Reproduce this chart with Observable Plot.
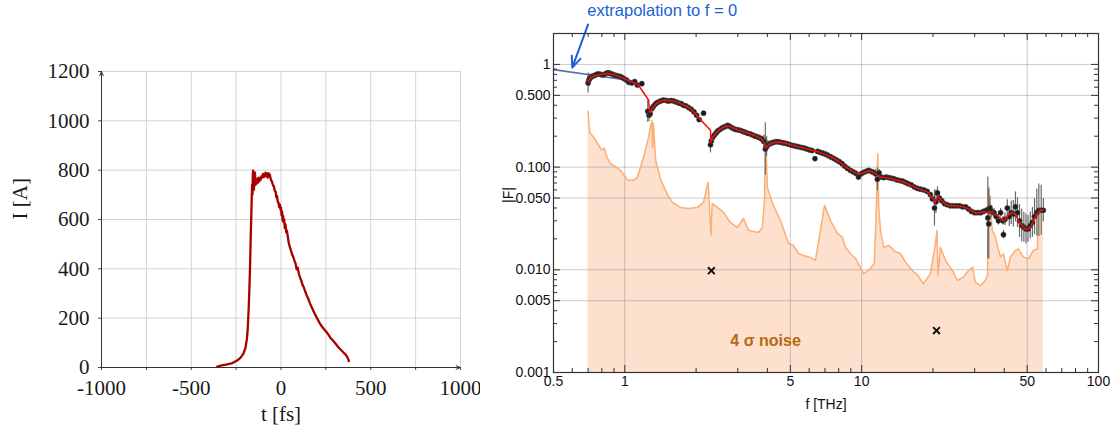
<!DOCTYPE html>
<html><head><meta charset="utf-8">
<script src="https://cdn.jsdelivr.net/npm/d3@7"></script>
<script src="https://cdn.jsdelivr.net/npm/@observablehq/plot@0.6"></script>
<style>
html,body{margin:0;padding:0;background:#fff;}
#wrap{display:flex;width:1117px;height:439px;overflow:hidden;}
#wrap svg{display:block;overflow:visible;}
</style></head><body><div id="wrap"></div>
<script>
// ---------- Left panel: current profile ----------
const tTime = [-355,-330,-300,-270,-244,-225,-210,-198,-190,-185,-180,-176,-172,-169,-166,-163,-161,-159,-157,-155,-153,-151,-148,-145,-142,-139,-136,-133,-129,-125,-121,-118,-114,-110,-105,-100,-95,-90,-86,-82,-78,-74,-70,-66,-62,-58,-55,-50,-45,-40,-35,-30,-26,-22,-18,-14,-10,-6,-3,0,3,6,9,12,15,18,21,25,29,33,38,43,48,53,58,64,70,76,81,87,93,99,106,113,120,127,135,143,151,160,170,180,190,202,214,226,239,252,264,276,288,300,313,325,336,345,353,360,366,371,375,378];
const currentA = [4,9,13,18,28,40,55,80,115,160,240,320,420,520,600,690,740,700,785,798,760,720,775,790,740,760,745,765,750,770,755,768,760,775,770,785,772,780,790,775,785,770,788,778,782,765,760,752,740,735,718,712,690,695,672,668,650,660,640,648,618,632,595,615,588,600,565,580,548,555,530,505,492,480,468,455,445,430,422,398,405,382,365,352,335,325,308,293,280,262,246,230,215,198,182,168,156,145,133,120,110,100,88,78,70,63,57,52,46,40,33,26];
const tDomain = [-1000, 1000];
const iDomain = [0, 1200];
const tGrid = [-1000,-750,-500,-250,0,250,500,750,1000];
const iGrid = [0,200,400,600,800,1000,1200];
const tTickLabels = [-1000,-500,0,500,1000];
const iTickLabels = [0,200,400,600,800,1000,1200];

// ---------- Right panel: form factor ----------
const fMeas = [0.70,0.705,0.71,0.72,0.73,0.745,0.76,0.775,0.79,0.805,0.82,0.835,0.85,0.865,0.88,0.90,0.92,0.94,0.96,0.98,1.00,1.02,1.04,1.07,1.10,1.13,1.18,
 1.25,1.265,1.28,1.30,1.32,1.345,1.37,1.40,1.43,1.46,1.50,1.53,1.57,1.61,1.65,1.69,1.73,1.77,1.81,1.86,1.91,1.96,2.01,2.06,2.15,
 2.30,2.32,2.35,2.39,2.43,2.47,2.52,2.57,2.62,2.67,2.72,2.77,2.83,2.89,2.95,3.02,3.09,3.16,3.23,3.31,3.39,3.47,3.55,3.63,3.71,3.79,3.86,3.92,
 3.97,4.02,4.08,4.15,4.23,4.32,4.42,4.52,4.62,4.73,4.84,4.96,5.08,5.20,5.33,5.46,5.60,5.74,5.88,6.03,6.18,6.35,6.52,6.70,6.88,7.06,7.25,7.44,7.64,7.84,8.05,8.27,8.49,8.72,8.96,9.20,9.45,
 9.70,9.95,10.2,10.45,10.7,10.95,11.2,11.45,11.65,11.85,12.1,12.4,12.7,13.0,13.35,13.7,14.1,14.5,14.9,15.3,15.7,16.2,16.7,17.2,17.7,18.3,18.9,19.5,19.9,20.3,20.6,20.9,21.3,21.8,22.4,23.0,23.7,24.4,25.1,25.9,26.7,27.5,28.3,29.1,30.0,30.9,31.8,32.7,33.6,34.1,34.4,34.8,35.4,36.2,37.0,37.8,38.6,39.5,39.7,40.3,41.2,42.0,42.8,43.7,44.6,45.5,46.4,47.4,48.4,49.4,50.4,51.5,52.6,53.7,54.9,56.0,57.3,58.5];
const FMeas = [0.66,0.70,0.73,0.75,0.77,0.78,0.80,0.81,0.80,0.79,0.80,0.82,0.83,0.82,0.81,0.79,0.78,0.77,0.76,0.74,0.72,0.70,0.67,0.66,0.68,0.63,0.65,
 0.35,0.32,0.33,0.37,0.39,0.41,0.425,0.435,0.445,0.45,0.445,0.44,0.445,0.44,0.43,0.42,0.415,0.40,0.395,0.38,0.365,0.345,0.32,0.29,0.335,
 0.165,0.18,0.195,0.205,0.215,0.225,0.232,0.24,0.245,0.25,0.255,0.25,0.242,0.236,0.232,0.23,0.227,0.222,0.218,0.213,0.21,0.205,0.20,0.197,0.193,0.188,0.178,0.150,
 0.158,0.165,0.168,0.171,0.174,0.176,0.177,0.175,0.173,0.171,0.169,0.166,0.163,0.161,0.159,0.157,0.155,0.153,0.150,0.147,0.145,0.121,0.142,0.139,0.136,0.133,0.129,0.125,0.121,0.117,0.113,0.108,0.102,0.097,0.093,0.090,0.087,
 0.080,0.086,0.089,0.091,0.093,0.091,0.089,0.086,0.076,0.088,0.080,0.079,0.080,0.079,0.078,0.077,0.075,0.074,0.073,0.071,0.069,0.067,0.064,0.062,0.061,0.060,0.058,0.054,0.049,0.040,0.046,0.056,0.050,0.047,0.044,0.043,0.042,0.042,0.042,0.042,0.041,0.041,0.039,0.037,0.036,0.036,0.036,0.037,0.038,0.032,0.028,0.040,0.037,0.036,0.033,0.030,0.036,0.030,0.022,0.031,0.040,0.033,0.036,0.035,0.041,0.036,0.030,0.027,0.026,0.025,0.025,0.027,0.029,0.033,0.036,0.038,0.038,0.038];
const errMeas = [1.25,1.15,1.10,1.06,1.05,1.04,1.04,1.04,1.04,1.04,1.04,1.04,1.04,1.04,1.04,1.04,1.04,1.04,1.04,1.04,1.04,1.04,1.04,1.04,1.04,1.04,1.04,
 1.28,1.15,1.10,1.06,1.05,1.04,1.04,1.04,1.04,1.04,1.04,1.04,1.04,1.04,1.04,1.04,1.04,1.04,1.04,1.04,1.04,1.04,1.04,1.04,1.03,
 1.20,1.12,1.08,1.06,1.05,1.05,1.04,1.04,1.04,1.04,1.04,1.04,1.04,1.04,1.04,1.04,1.04,1.04,1.04,1.04,1.04,1.04,1.04,1.04,1.04,1.05,1.15,1.8,
 1.25,1.10,1.06,1.05,1.04,1.04,1.04,1.04,1.04,1.04,1.04,1.04,1.04,1.04,1.04,1.04,1.04,1.04,1.04,1.04,1.04,1.03,1.04,1.05,1.06,1.07,1.07,1.06,1.05,1.04,1.04,1.04,1.04,1.05,1.05,1.05,1.05,
 1.04,1.04,1.04,1.04,1.04,1.04,1.05,1.10,1.3,1.08,1.05,1.04,1.04,1.04,1.04,1.04,1.04,1.04,1.04,1.04,1.04,1.04,1.04,1.04,1.04,1.04,1.05,1.05,1.05,1.5,1.3,1.15,1.08,1.05,1.04,1.04,1.04,1.04,1.04,1.04,1.04,1.04,1.04,1.04,1.04,1.04,1.04,1.05,1.07,2.5,2.2,1.3,1.15,1.1,1.08,1.1,1.1,1.1,1.1,1.15,1.2,1.25,1.3,1.35,1.4,1.4,1.45,1.45,1.4,1.4,1.35,1.35,1.4,1.5,1.7,1.8,1.75,1.3];

const fitF = [0.70,0.72,0.75,0.80,0.85,0.90,0.95,1.00,1.05,1.10,1.14,1.26,1.275,1.30,1.35,1.40,1.47,1.55,1.63,1.70,1.80,1.90,2.00,2.07,2.30,2.31,2.36,2.45,2.55,2.67,2.75,2.85,3.00,3.20,3.40,3.60,3.80,3.90,3.95,4.05,4.25,4.45,4.70,5.00,5.40,5.80,6.20,6.60,7.00,7.50,8.00,8.50,9.00,9.50,9.90,10.4,10.8,11.2,11.6,12.0,12.6,13.2,14.0,15.0,16.0,17.0,18.0,19.0,19.8,20.4,21.0,21.6,22.5,23.5,25.0,27.0,28.5,30.0,31.5,33.0,34.2,35.5,37.0,38.5,40.0,41.5,43.0,44.5,46.0,47.5,49.0,50.5,52.0,53.5,55.0,57.0,58.5];
const fitV = [0.68,0.75,0.78,0.80,0.815,0.795,0.76,0.725,0.685,0.665,0.63,0.45,0.34,0.365,0.41,0.435,0.448,0.443,0.437,0.42,0.398,0.37,0.325,0.295,0.228,0.175,0.197,0.22,0.238,0.25,0.252,0.242,0.231,0.22,0.21,0.199,0.188,0.165,0.155,0.165,0.174,0.176,0.172,0.166,0.158,0.152,0.145,0.140,0.133,0.124,0.114,0.102,0.093,0.087,0.086,0.090,0.092,0.089,0.084,0.080,0.079,0.078,0.075,0.072,0.067,0.063,0.060,0.057,0.051,0.045,0.052,0.048,0.044,0.042,0.042,0.041,0.039,0.036,0.036,0.037,0.036,0.037,0.034,0.032,0.030,0.034,0.036,0.035,0.030,0.027,0.025,0.025,0.027,0.031,0.035,0.038,0.038];

const noiseF = [0.70,0.71,0.74,0.80,0.82,0.84,0.87,0.96,1.03,1.09,1.13,1.20,1.26,1.30,1.31,1.32,1.35,1.42,1.52,1.59,1.72,1.86,2.03,2.15,2.25,2.31,2.34,2.46,2.61,2.79,2.99,3.17,3.33,3.67,3.81,3.89,3.93,4.00,4.20,4.54,4.91,5.15,5.41,5.68,6.08,6.38,6.70,6.97,7.38,7.90,8.30,8.55,8.97,9.42,9.88,10.2,10.9,11.3,11.5,11.7,11.8,12.0,12.4,13.0,13.9,14.6,15.3,16.6,17.2,18.2,19.5,20.5,20.8,21.0,21.5,22.6,24.2,25.4,26.9,28.2,29.4,30.2,31.7,33.3,34.0,34.4,35.6,36.7,38.5,39.7,41.2,42.5,44.6,45.9,48.2,50.6,53.1,55.2,55.7,58.0,58.5];
const noiseV = [0.350,0.219,0.195,0.146,0.153,0.125,0.109,0.093,0.0743,0.0743,0.0795,0.125,0.195,0.286,0.156,0.267,0.116,0.0743,0.0531,0.0454,0.0405,0.0396,0.0405,0.0454,0.0711,0.0216,0.0443,0.0405,0.0362,0.0289,0.0258,0.0316,0.0242,0.0231,0.0258,0.0474,0.204,0.0635,0.0443,0.0303,0.0181,0.0173,0.0144,0.0138,0.0132,0.0123,0.0242,0.0424,0.0303,0.0226,0.0207,0.0165,0.0144,0.0129,0.0105,0.0092,0.0103,0.0115,0.0303,0.136,0.0424,0.0242,0.0165,0.0173,0.0150,0.0144,0.0119,0.0095,0.0090,0.0073,0.0091,0.0179,0.0242,0.0088,0.0166,0.0123,0.0098,0.0079,0.0085,0.0098,0.0106,0.0076,0.0070,0.0079,0.0088,0.064,0.0242,0.0208,0.0133,0.0143,0.0098,0.0133,0.0154,0.0160,0.0133,0.0128,0.0154,0.0160,0.0354,0.0379,0.0362];

const extrapF = [0.5, 1.0];
const extrapV = [0.89, 0.71];
const crossF = [2.32, 20.7];
const crossV = [0.0098, 0.00256];

const fDomain = [0.5, 100];
const FDomain = [0.001, 2];
const fTicks = [0.5, 1, 5, 10, 50, 100];
const fTickLabels = ["0.5", "1", "5", "10", "50", "100"];
const FTicks = [0.001, 0.005, 0.01, 0.05, 0.1, 0.5, 1];
const FTickLabels = ["0.001", "0.005", "0.010", "0.050", "0.100", "0.500", "1"];
const fGrid = [1, 5, 10, 50];
const FGrid = [0.005, 0.01, 0.05, 0.1, 0.5, 1];

const blueNote = [{f: 1.44, v: 3.35, label: "extrapolation to f = 0"}];
const noiseNote = [{f: 3.93, v: 0.00205, label: "4 σ noise"}];
const arrowSpec = [{f1: 0.70, v1: 2.45, f2: 0.60, v2: 0.93}];

// ---------- build tables ----------
const leftData = tTime.map((t, i) => ({t, I: currentA[i]}));
const meas = fMeas.map((f, i) => ({f, F: FMeas[i], e: errMeas[i]}));
const fit = fitF.map((f, i) => ({f, v: fitV[i]}));
const noise = noiseF.map((f, i) => ({f, v: noiseV[i]}));
const extrap = extrapF.map((f, i) => ({f, v: extrapV[i]}));
const crosses = crossF.map((f, i) => ({f, v: crossV[i]}));
const fTickRows = fTicks.map((d, i) => ({d, label: fTickLabels[i]}));
const FTickRows = FTicks.map((d, i) => ({d, label: FTickLabels[i]}));

const xMinor = [];
[0.1, 1, 10].forEach(k => { for (let m = 2; m <= 9; m++) { const v = +(m * k).toPrecision(3); if (v > 0.5 && v < 100 && !fTicks.includes(v)) xMinor.push(v); } });
const yMinor = [];
[0.001, 0.01, 0.1, 1].forEach(k => { for (let m = 2; m <= 9; m++) { const v = +(m * k).toPrecision(3); if (v < 2 && !FTicks.includes(v)) yMinor.push(v); } });

const wrap = document.getElementById("wrap");

// Left chart
const L = {w: 480, h: 439, ml: 101, mr: 20, mt: 71, mb: 72};
const left = Plot.plot({
  width: L.w, height: L.h, marginLeft: L.ml, marginRight: L.mr, marginTop: L.mt, marginBottom: L.mb,
  style: {fontFamily: "'Liberation Serif', 'DejaVu Serif', serif", fontSize: "21px", color: "#1a1a1a", background: "white", overflow: "visible"},
  x: {domain: tDomain, label: null},
  y: {domain: iDomain, label: null},
  marks: [
    Plot.ruleX(tGrid, {stroke: "#d4d4d4", strokeWidth: 1}),
    Plot.ruleY(iGrid, {stroke: "#d4d4d4", strokeWidth: 1}),
    Plot.axisX({ticks: tGrid, tickSize: 3, tickFormat: () => "", stroke: "#444"}),
    Plot.axisY({ticks: iGrid, tickSize: 3, tickFormat: () => "", stroke: "#444"}),
    Plot.axisX({ticks: tTickLabels, tickSize: 0, tickPadding: 13, tickFormat: d => String(d), fontSize: 21}),
    Plot.axisY({ticks: iTickLabels, tickSize: 0, tickPadding: 12, tickFormat: d => String(d), fontSize: 21}),
    Plot.arrow([0], {x1: tDomain[0], y1: iDomain[0], x2: tDomain[1], y2: iDomain[0], stroke: "#333", strokeWidth: 1, headLength: 7, headAngle: 45}),
    Plot.arrow([0], {x1: tDomain[0], y1: iDomain[0], x2: tDomain[0], y2: iDomain[1], stroke: "#333", strokeWidth: 1, headLength: 7, headAngle: 45}),
    Plot.line(leftData, {x: "t", y: "I", stroke: "#a80000", strokeWidth: 2.3}),
    Plot.text(["t [fs]"], {frameAnchor: "bottom", dy: 53, fontSize: 21, fill: "#1a1a1a"}),
    Plot.text(["I [A]"], {frameAnchor: "left", dx: -81, rotate: -90, fontSize: 21, fill: "#1a1a1a"})
  ]
});
wrap.appendChild(left);

// Right chart
const R = {w: 637, h: 439, ml: 73, mr: 19, mt: 33, mb: 67};
const fw = R.w - R.ml - R.mr, fh = R.h - R.mt - R.mb;
const right = Plot.plot({
  width: R.w, height: R.h, marginLeft: R.ml, marginRight: R.mr, marginTop: R.mt, marginBottom: R.mb,
  style: {fontFamily: "'Liberation Sans', Arial, sans-serif", fontSize: "14px", color: "#111", background: "white", overflow: "visible"},
  x: {type: "log", domain: fDomain, label: null, axis: null},
  y: {type: "log", domain: FDomain, label: null, axis: null},
  marks: [
    Plot.areaY(noise, {x: "f", y1: FDomain[0], y2: "v", fill: "#fde0cd"}),
    Plot.ruleX(fGrid, {stroke: "#808080", strokeOpacity: 0.42}),
    Plot.ruleY(FGrid, {stroke: "#808080", strokeOpacity: 0.42}),
    Plot.line(noise, {x: "f", y: "v", stroke: "#fdae74", strokeWidth: 1.5}),
    Plot.line(extrap, {x: "f", y: "v", stroke: "#4d74b3", strokeWidth: 1.6}),
    Plot.ruleX(meas, {x: "f", y1: d => d.F / d.e, y2: d => d.F * d.e, stroke: "#6a6a6a", strokeWidth: 1.2}),
    Plot.dot(meas, {x: "f", y: "F", r: 2.6, fill: "#1c1c1c", stroke: "#555", strokeWidth: 0.5}),
    Plot.line(fit, {x: "f", y: "v", stroke: "#ee1111", strokeWidth: 1.5}),
    Plot.dot(crosses, {x: "f", y: "v", symbol: "times", r: 3.2, stroke: "#111", strokeWidth: 2}),
    Plot.text(blueNote, {x: "f", y: "v", text: "label", fill: "#1b5fd9", fontSize: 16.5}),
    Plot.text(noiseNote, {x: "f", y: "v", text: "label", fill: "#b46a12", fontSize: 16, fontWeight: "bold"}),
    Plot.arrow(arrowSpec, {x1: "f1", y1: "v1", x2: "f2", y2: "v2", stroke: "#1b5fd9", strokeWidth: 2, headLength: 9, headAngle: 45}),
    Plot.tickY(yMinor, {insetRight: fw - 4, stroke: "#333"}),
    Plot.tickY(yMinor, {insetLeft: fw - 4, stroke: "#333"}),
    Plot.tickY(FTicks, {insetRight: fw - 7, stroke: "#333"}),
    Plot.tickY(FTicks, {insetLeft: fw - 7, stroke: "#333"}),
    Plot.tickX(xMinor, {insetBottom: fh - 4, stroke: "#333"}),
    Plot.tickX(xMinor, {insetTop: fh - 4, stroke: "#333"}),
    Plot.tickX(fTicks, {insetBottom: fh - 7, stroke: "#333"}),
    Plot.tickX(fTicks, {insetTop: fh - 7, stroke: "#333"}),
    Plot.frame({stroke: "#333", strokeWidth: 1.2}),
    Plot.text(fTickRows, {x: "d", text: "label", frameAnchor: "bottom", lineAnchor: "top", dy: 4, fontSize: 14, fill: "#111"}),
    Plot.text(FTickRows, {y: "d", text: "label", frameAnchor: "left", textAnchor: "end", dx: -3, fontSize: 14, fill: "#111"}),
    Plot.text(["f [THz]"], {frameAnchor: "bottom", dy: 36, fontSize: 14, fill: "#111"}),
    Plot.text(["|F|"], {frameAnchor: "left", dx: -45, rotate: -90, fontSize: 14, fill: "#111"})
  ]
});
wrap.appendChild(right);
</script></body></html>
